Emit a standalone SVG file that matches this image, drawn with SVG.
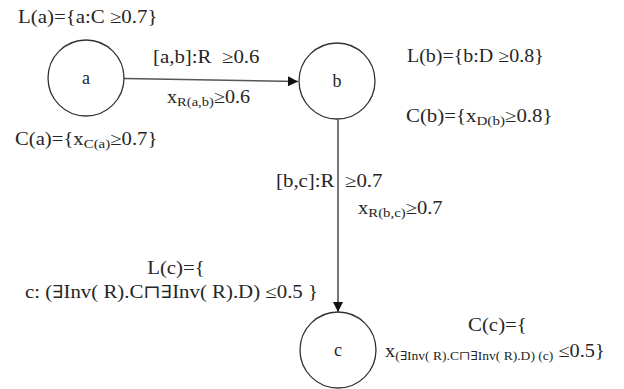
<svg xmlns="http://www.w3.org/2000/svg" width="624" height="389" viewBox="0 0 624 389">
<style>
.t{font-family:"Liberation Serif","Times New Roman","DejaVu Serif",serif;font-size:18px;fill:#262626;white-space:pre}
.s{font-size:13px}
.s2{font-size:12px}
.n{fill:#fff;stroke:#333;stroke-width:1.3}
.e{stroke:#555;stroke-width:1.6;fill:none}
</style>
<defs>
<marker id="ah" viewBox="0 0 10 10" refX="10" refY="5" markerWidth="12" markerHeight="10" markerUnits="userSpaceOnUse" orient="auto">
<path d="M0,0 L10,5 L0,10 Z" fill="#111"/>
</marker>
</defs>
<rect width="624" height="389" fill="#fff"/>
<g id="connectors">
<line class="e" x1="124" y1="78.5" x2="298" y2="81.5" marker-end="url(#ah)"/>
<line class="e" x1="338" y1="119.5" x2="338" y2="312" marker-end="url(#ah)"/>
</g>
<g id="node-a">
<circle class="n" cx="86" cy="78" r="38"/>
<text class="t" x="86" y="84" text-anchor="middle">a</text>
</g>
<g id="node-b">
<circle class="n" cx="337" cy="81" r="38"/>
<text class="t" x="337" y="87" text-anchor="middle">b</text>
</g>
<g id="node-c">
<circle class="n" cx="338" cy="350" r="38"/>
<text class="t" x="338" y="356" text-anchor="middle">c</text>
</g>
<g id="labels">
<text class="t" transform="translate(18,23) scale(1.16,1)">L(a)={a:C ≥0.7}</text>
<text class="t" transform="translate(153,63) scale(1.16,1)">[a,b]:R  ≥0.6</text>
<text class="t" transform="translate(167,103) scale(1.12,1)">x<tspan class="s" dy="3">R(a,b)</tspan><tspan dy="-3">≥0.6</tspan></text>
<text class="t" transform="translate(15,145) scale(1.15,1)">C(a)={x<tspan class="s" dy="3">C(a)</tspan><tspan dy="-3">≥0.7}</tspan></text>
<text class="t" transform="translate(407,62) scale(1.11,1)">L(b)={b:D ≥0.8}</text>
<text class="t" transform="translate(406,122) scale(1.16,1)">C(b)={x<tspan class="s" dy="3">D(b)</tspan><tspan dy="-3">≥0.8}</tspan></text>
<text class="t" transform="translate(276,187) scale(1.16,1)">[b,c]:R  ≥0.7</text>
<text class="t" transform="translate(358,214) scale(1.14,1)">x<tspan class="s" dy="3">R(b,c)</tspan><tspan dy="-3">≥0.7</tspan></text>
<text class="t" transform="translate(176,274) scale(1.16,1)" text-anchor="middle">L(c)={</text>
<text class="t" transform="translate(25,298)" textLength="293" lengthAdjust="spacingAndGlyphs">c: (∃Inv( R).C⊓∃Inv( R).D) ≤0.5 }</text>
<text class="t" transform="translate(468,331) scale(1.16,1)">C(c)={</text>
<text class="t" transform="translate(385,357) scale(1.13,1)">x<tspan class="s2" dy="3">(∃Inv( R).C⊓∃Inv( R).D) (c)</tspan><tspan dy="-3"> ≤0.5}</tspan></text>
</g>
</svg>
